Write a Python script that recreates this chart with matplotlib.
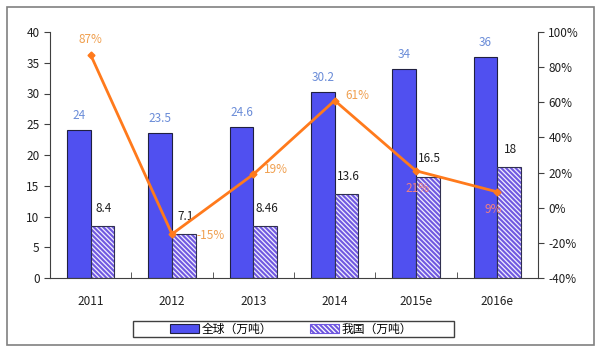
import matplotlib
matplotlib.use("Agg")
import matplotlib.pyplot as plt
import numpy as np
from matplotlib.patches import Rectangle

plt.rcParams['font.family'] = ['Noto Sans CJK SC', 'DejaVu Sans']
plt.rcParams['hatch.linewidth'] = 1.5

categories = ['2011', '2012', '2013', '2014', '2015e', '2016e']
global_vals = [24, 23.5, 24.6, 30.2, 34, 36]
china_vals = [8.4, 7.1, 8.46, 13.6, 16.5, 18]
china_labels = ['8.4', '7.1', '8.46', '13.6', '16.5', '18']
growth = [87, -15, 19, 61, 21, 9]
growth_labels = ['87%', '-15%', '19%', '61%', '21%', '9%']
series_names = ['全球（万吨）', '我国（万吨）']

HATCH = '\\' * 7

fig = plt.figure(figsize=(6, 3.51), dpi=100)
fig.patches.append(Rectangle((7/600, 6/351), 587/600, 338/351, transform=fig.transFigure,
                             fill=False, edgecolor='#808080', linewidth=1.2))
ax = fig.add_axes([50/600, 73/351, 488/600, 246/351])
ax2 = ax.twinx()

x = np.arange(len(categories))
w = 0.29
blue = '#5050F0'
purple = '#7058E0'
face = '#F0EEFF'
b1 = ax.bar(x - w/2, global_vals, w, color=blue, edgecolor='#202040', linewidth=0.8, zorder=2)
ax.bar(x + w/2, china_vals, w, color=face, edgecolor=purple, hatch=HATCH, linewidth=0, zorder=2)
b2 = ax.bar(x + w/2, china_vals, w, fill=False, edgecolor='#303050', linewidth=0.8, zorder=3)

for i in range(len(x)):
    ax.text(x[i] - w/2, global_vals[i] + 1.3, str(global_vals[i]), ha='center', va='bottom',
            color='#6A8CD8', fontsize=8.5)
    ax.text(x[i] + w/2 + 0.02, china_vals[i] + 1.8, china_labels[i], ha='center', va='bottom',
            color='#202020', fontsize=8.5)

ax.set_ylim(0, 40)
ax.set_yticks(range(0, 41, 5))
ax.set_xlim(-0.5, 5.5)
ax.set_xticks(x)
ax.set_xticklabels(categories)
ax.set_xticks(np.arange(0.5, 5.5, 1), minor=True)
ax.tick_params(axis='x', which='major', length=0, pad=12, labelsize=8.5, colors='#202020')
ax.tick_params(axis='x', which='minor', length=4, direction='in', color='#404040')
ax.tick_params(axis='y', length=4, direction='out', labelsize=8.5, colors='#202020', color='#404040')
for s in ['top', 'right']:
    ax.spines[s].set_visible(False)
ax.spines['left'].set_color('#404040')
ax.spines['bottom'].set_color('#404040')

orange = '#FF7A1C'
ax2.plot(x, growth, color=orange, linewidth=2, marker='D', markersize=3.5, zorder=5)
ax2.set_ylim(-40, 100)
ax2.set_yticks(range(-40, 101, 20))
ax2.set_yticklabels([f'{v}%' for v in range(-40, 101, 20)])
ax2.tick_params(axis='y', length=4, direction='out', labelsize=8.5, colors='#202020', color='#404040')
for s in ['top', 'left', 'bottom']:
    ax2.spines[s].set_visible(False)
ax2.spines['right'].set_color('#404040')

lab_col = '#F0A050'
offsets = [(0, 5, 'center', 'bottom'), (0.48, -1, 'center', 'center'), (0.28, 3, 'center', 'center'),
           (0.28, 3, 'center', 'center'), (0.02, -10, 'center', 'center'), (-0.05, -10, 'center', 'center')]
for i in range(len(x)):
    dx, dy, ha, va = offsets[i]
    col = lab_col if i < 4 else '#F08080'
    ax2.text(x[i] + dx, growth[i] + dy, growth_labels[i], ha=ha, va=va, color=col, fontsize=8.5, zorder=6)

fig.patches.append(Rectangle((133/600, 1 - 337/351), 321/600, 16/351, transform=fig.transFigure,
                             fill=False, edgecolor='#404040', linewidth=1))
leg = fig.legend([b1, b2], series_names, loc='center', bbox_to_anchor=(291/600, 1 - 329/351),
                 ncol=2, frameon=False, fontsize=8.5, handlelength=2.5,
                 handleheight=0.9, borderpad=0.2, columnspacing=3.2, handletextpad=0.2)
leg.legend_handles[1].set_hatch(HATCH)
leg.legend_handles[1].set_facecolor(face)
leg.legend_handles[1].set_edgecolor(purple)

fig.savefig('out.png', dpi=100)
